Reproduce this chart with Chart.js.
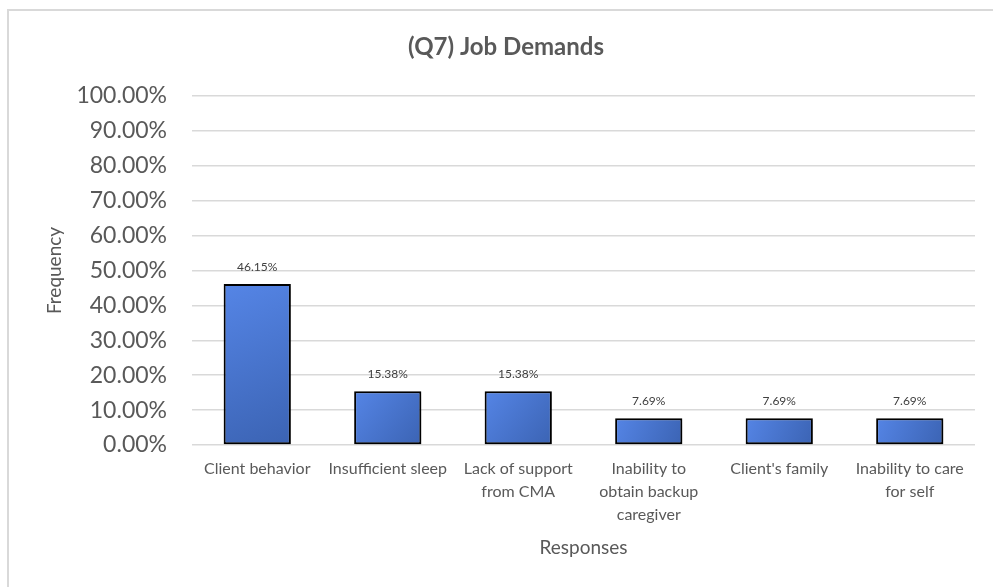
<!DOCTYPE html>
<html>
<head>
<meta charset="utf-8">
<script src="https://cdn.jsdelivr.net/npm/chart.js@4.4.1/dist/chart.umd.min.js"></script>
<style>
  html, body { margin: 0; padding: 0; background: #fff; }
  #wrap { position: relative; width: 993px; height: 587px; overflow: hidden; }
  #frame { position: absolute; left: 7px; top: 9px; width: 1000px; height: 600px;
           border-left: 2px solid #d9d9d9; border-top: 2px solid #d9d9d9; pointer-events: none; }
  canvas { position: absolute; left: 0; top: 0; }
</style>
</head>
<body>
<div id="wrap">
  <canvas id="c" width="993" height="587"></canvas>
  <div id="frame"></div>
</div>
<script>
const chartTitle = '(Q7) Job Demands';
const categories = [
  'Client behavior',
  'Insufficient sleep',
  ['Lack of support', 'from CMA'],
  ['Inability to', 'obtain backup', 'caregiver'],
  "Client's family",
  ['Inability to care', 'for self']
];
const frequency = [46.15, 15.38, 15.38, 7.69, 7.69, 7.69];
const yTicks = [0, 10, 20, 30, 40, 50, 60, 70, 80, 90, 100];
const yTitle = 'Frequency';
const xTitle = 'Responses';

const FONT = 'Lato, Carlito, Calibri, sans-serif';
const GREY = '#595959';

function barGradient(ctx) {
  const chart = ctx.chart;
  const scales = chart.scales;
  if (!chart.chartArea || !scales.x || !scales.y || ctx.type !== 'data') return '#4a78d6';
  const x = scales.x.getPixelForValue(ctx.dataIndex);
  const yTop = scales.y.getPixelForValue(ctx.parsed.y);
  const yBot = scales.y.getPixelForValue(0);
  const g = chart.ctx.createLinearGradient(x - 34, yTop, x + 34, yBot);
  g.addColorStop(0, '#5585e6');
  g.addColorStop(1, '#3b63b3');
  return g;
}

const shadowPlugin = {
  id: 'barShadow',
  beforeDatasetsDraw(chart) {
    const c = chart.ctx;
    c.save();
    c.shadowColor = 'rgba(0,0,0,0.3)';
    c.shadowBlur = 5;
    c.shadowOffsetX = 2;
    c.shadowOffsetY = 2;
  },
  afterDatasetsDraw(chart) {
    chart.ctx.restore();
  }
};

const labelPlugin = {
  id: 'valueLabels',
  afterDraw(chart) {
    const c = chart.ctx;
    const meta = chart.getDatasetMeta(0);
    c.save();
    c.font = '12px ' + FONT;
    c.fillStyle = '#404040';
    c.textAlign = 'center';
    c.textBaseline = 'middle';
    meta.data.forEach((el, i) => {
      c.fillText(frequency[i].toFixed(2) + '%', el.x, el.y - 17);
    });
    c.font = 'bold 24px ' + FONT;
    c.fillStyle = GREY;
    c.fillText(chartTitle, 506, 47);
    c.restore();
  }
};

new Chart(document.getElementById('c'), {
  type: 'bar',
  data: {
    labels: categories,
    datasets: [{
      data: frequency,
      backgroundColor: barGradient,
      borderColor: '#000000',
      borderWidth: 2,
      borderSkipped: false,
      categoryPercentage: 1,
      barPercentage: 0.515
    }]
  },
  options: {
    responsive: false,
    animation: false,
    devicePixelRatio: 1,
    layout: { padding: { left: 0, right: 18, top: 96, bottom: 0 } },
    plugins: {
      legend: { display: false },
      tooltip: { enabled: false },
      title: { display: false }
    },
    scales: {
      x: {
        grid: { display: false, drawTicks: false },
        border: { display: false },
        ticks: {
          color: GREY,
          font: { family: FONT, size: 16, lineHeight: '23px' },
          padding: 12,
          maxRotation: 0,
          minRotation: 0,
          autoSkip: false
        },
        title: {
          display: true,
          text: xTitle,
          color: GREY,
          font: { family: FONT, size: 19, lineHeight: 1.2 },
          padding: { top: 0, bottom: 28 }
        },
        afterFit(scale) { scale.height = 142; }
      },
      y: {
        min: 0,
        max: 100,
        afterBuildTicks(scale) { scale.ticks = yTicks.map(v => ({ value: v })); },
        grid: { color: '#d9d9d9', lineWidth: 1.5, drawTicks: false },
        border: { display: false },
        ticks: {
          color: GREY,
          font: { family: FONT, size: 23 },
          padding: 25,
          callback: v => Number(v).toFixed(2) + '%'
        },
        title: {
          display: true,
          text: yTitle,
          color: GREY,
          font: { family: FONT, size: 19, lineHeight: 1.2 },
          padding: { top: 43, bottom: 0 }
        },
        afterFit(scale) { scale.width = 192; }
      }
    }
  },
  plugins: [shadowPlugin, labelPlugin]
});
</script>
</body>
</html>
